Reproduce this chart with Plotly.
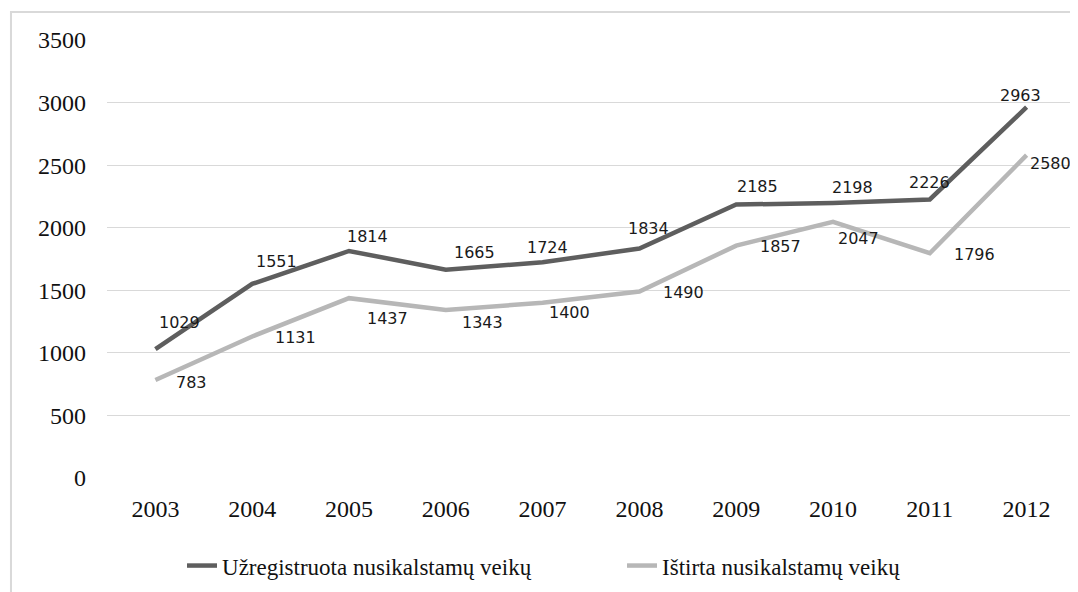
'''
    Line chart: registered vs investigated criminal acts, 2003-2012.
'''

import plotly.graph_objects as go

# Data
years = ['2003', '2004', '2005', '2006', '2007', '2008', '2009', '2010', '2011', '2012']
uzregistruota = [1029, 1551, 1814, 1665, 1724, 1834, 2185, 2198, 2226, 2963]
istirta = [783, 1131, 1437, 1343, 1400, 1490, 1857, 2047, 1796, 2580]
y_ticks = [0, 500, 1000, 1500, 2000, 2500, 3000, 3500]

name_dark = 'Užregistruota nusikalstamų veikų'
name_light = 'Ištirta nusikalstamų veikų'

# Label shifts (px) to mimic the reference's label placement
dark_shift = [(24, 27), (24, 22), (18, 14), (29, 17), (5, 15),
              (9, 20), (21, 18), (19, 15), (0, 17), (-6, 12)]
light_shift = [(36, -2), (43, -1), (38, -20), (37, -13), (27, -10),
               (44, -1), (44, -1), (25, -17), (45, -1), (24, -8)]

DARK = '#5e5e5e'
LIGHT = '#b7b7b7'
SERIF = 'Liberation Serif, Times New Roman, serif'
SANS = 'DejaVu Sans, Verdana, sans-serif'

fig = go.Figure()
fig.add_trace(go.Scatter(x=years, y=uzregistruota, name=name_dark, mode='lines',
                         line=dict(color=DARK, width=4.5)))
fig.add_trace(go.Scatter(x=years, y=istirta, name=name_light, mode='lines',
                         line=dict(color=LIGHT, width=4.5)))

# category axis: annotations use the category index
annotations = []
for series, shifts in ((uzregistruota, dark_shift), (istirta, light_shift)):
    for i, (val, (dx, dy)) in enumerate(zip(series, shifts)):
        annotations.append(dict(x=i, y=val, text=str(val), showarrow=False,
                                xshift=dx, yshift=dy,
                                font=dict(family=SANS, size=16, color='#1a1a1a')))

# the page body adds an 8px offset, margins compensate for it
fig.update_layout(
    width=1078, height=592,
    margin=dict(l=99, r=11, t=32, b=122),
    paper_bgcolor='white', plot_bgcolor='white',
    showlegend=True,
    legend=dict(orientation='h', x=0.0775, xanchor='left', y=-0.2, yanchor='middle',
                font=dict(family=SERIF, size=23, color='#111111'),
                entrywidth=395, itemwidth=30, traceorder='normal'),
    annotations=annotations,
    shapes=[dict(type='rect', xref='paper', yref='paper',
                 x0=-0.0992, x1=1.02, y0=-0.3, y1=1.0639,
                 line=dict(color='#d9d9d9', width=2), layer='below')],
)

fig.update_xaxes(type='category', range=[-0.5, len(years) - 0.5],
                 showgrid=False, showline=False, zeroline=False,
                 ticks='', ticklabelstandoff=14,
                 tickfont=dict(family=SERIF, size=24, color='#111111'))
fig.update_yaxes(range=[0, 3500], tickvals=y_ticks, showgrid=True, gridcolor='#d9d9d9',
                 gridwidth=1, zeroline=False, showline=False, ticks='',
                 ticklabelstandoff=20,
                 tickfont=dict(family=SERIF, size=24, color='#111111'))

fig.write_html('out.html')
